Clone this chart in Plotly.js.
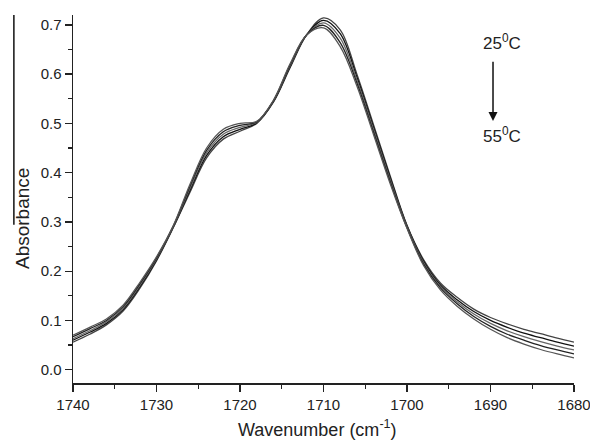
<!DOCTYPE html>
<html>
<head>
<meta charset="utf-8">
<script src="https://cdn.plot.ly/plotly-3.0.1.min.js"></script>
<style>html,body{margin:0;padding:0;background:#fff;}#chart{width:590px;height:440px;}</style>
</head>
<body>
<div id="chart"></div>
<script>
const wavenumber = [1740,1738,1736,1734,1732,1730,1728,1726,1724,1722,1720,1718,1716,1714,1712,1710,1708,1706,1704,1702,1700,1698,1696,1694,1692,1690,1688,1686,1684,1682,1680];
const s25 = [0.056,0.072,0.091,0.119,0.165,0.221,0.288,0.360,0.430,0.468,0.484,0.500,0.543,0.613,0.680,0.714,0.690,0.600,0.497,0.393,0.293,0.223,0.176,0.147,0.123,0.106,0.093,0.082,0.073,0.064,0.056];
const s32 = [0.060,0.076,0.094,0.122,0.168,0.223,0.289,0.364,0.435,0.473,0.488,0.501,0.544,0.615,0.680,0.709,0.682,0.594,0.492,0.389,0.292,0.220,0.172,0.142,0.118,0.100,0.086,0.074,0.065,0.056,0.048];
const s40 = [0.063,0.079,0.097,0.125,0.171,0.225,0.290,0.368,0.440,0.478,0.492,0.502,0.545,0.617,0.680,0.704,0.673,0.588,0.487,0.385,0.290,0.217,0.169,0.138,0.113,0.094,0.079,0.067,0.057,0.048,0.040];
const s48 = [0.067,0.083,0.100,0.128,0.174,0.227,0.291,0.372,0.445,0.483,0.496,0.503,0.546,0.619,0.680,0.699,0.664,0.582,0.482,0.381,0.288,0.214,0.166,0.134,0.108,0.088,0.072,0.060,0.049,0.040,0.032];
const s55 = [0.070,0.086,0.103,0.131,0.177,0.229,0.292,0.376,0.450,0.488,0.500,0.504,0.547,0.621,0.680,0.694,0.656,0.576,0.477,0.377,0.287,0.211,0.162,0.129,0.103,0.082,0.065,0.052,0.041,0.032,0.024];
const seriesList = [s25, s32, s40, s48, s55];
const lineColors = ['#444','#111','#666','#222','#555'];

const traces = seriesList.map((ys, i) => ({
  x: wavenumber, y: ys, type: 'scatter', mode: 'lines',
  line: {color: lineColors[i], width: 1.3, shape: 'spline', smoothing: 1.0},
  hoverinfo: 'skip', showlegend: false
}));

const FAM = 'Liberation Sans, Arial, sans-serif';
const axisFont = {family: FAM, size: 15, color: '#222'};
const layout = {
  width: 590, height: 440,
  margin: {l: 73, r: 16, t: 15, b: 57},
  paper_bgcolor: '#fff', plot_bgcolor: '#fff',
  font: axisFont,
  showlegend: false,
  xaxis: {
    range: [1740, 1680], autorange: false,
    showgrid: false, zeroline: false,
    showline: true, linecolor: '#222', linewidth: 1.5,
    ticks: 'outside', ticklen: 7, tickwidth: 1.3, tickcolor: '#222',
    dtick: 10, tick0: 1680,
    minor: {dtick: 5, tick0: 1680, ticks: 'outside', ticklen: 4, tickwidth: 1.3, tickcolor: '#222', showgrid: false},
    tickfont: axisFont,
    ticklabeloverflow: 'allow',
    automargin: false
  },
  yaxis: {
    range: [-0.027, 0.72], autorange: false,
    showgrid: false, zeroline: false,
    showline: true, linecolor: '#222', linewidth: 1.5,
    ticks: 'outside', ticklen: 7, tickwidth: 1.3, tickcolor: '#222',
    dtick: 0.1, tick0: 0, tickformat: '.1f',
    minor: {dtick: 0.05, tick0: 0, ticks: 'outside', ticklen: 4, tickwidth: 1.3, tickcolor: '#222', showgrid: false},
    tickfont: axisFont,
    ticklabeloverflow: 'allow',
    automargin: false
  },
  annotations: [
    {x: -0.102, y: 0.448, xref: 'paper', yref: 'paper', text: 'Absorbance', textangle: -90, showarrow: false,
     xanchor: 'center', yanchor: 'middle', font: {family: FAM, size: 19, color: '#222'}},
    {x: 0.489, y: -0.124, xref: 'paper', yref: 'paper', text: 'Wavenumber (cm<sup>-1</sup>)', showarrow: false,
     xanchor: 'center', yanchor: 'middle', font: {family: FAM, size: 18, color: '#222'}},
    {x: 1688.6, y: 0.665, xref: 'x', yref: 'y', text: '25<sup>0</sup>C', showarrow: false,
     font: {family: FAM, size: 17, color: '#222'}},
    {x: 1688.6, y: 0.477, xref: 'x', yref: 'y', text: '55<sup>0</sup>C', showarrow: false,
     font: {family: FAM, size: 17, color: '#222'}},
    {x: 1689.7, y: 0.505, ax: 1689.7, ay: 0.628, xref: 'x', yref: 'y', axref: 'x', ayref: 'y',
     text: '', showarrow: true, arrowhead: 2, arrowsize: 1.2, arrowwidth: 1.5, arrowcolor: '#111'}
  ],
  shapes: [
    {type: 'line', xref: 'paper', yref: 'paper', x0: -0.118, x1: -0.118, y0: 1.0, y1: 0.43,
     line: {color: '#111', width: 1.5}}
  ]
};
Plotly.newPlot('chart', traces, layout, {staticPlot: true, displayModeBar: false});
</script>
</body>
</html>
